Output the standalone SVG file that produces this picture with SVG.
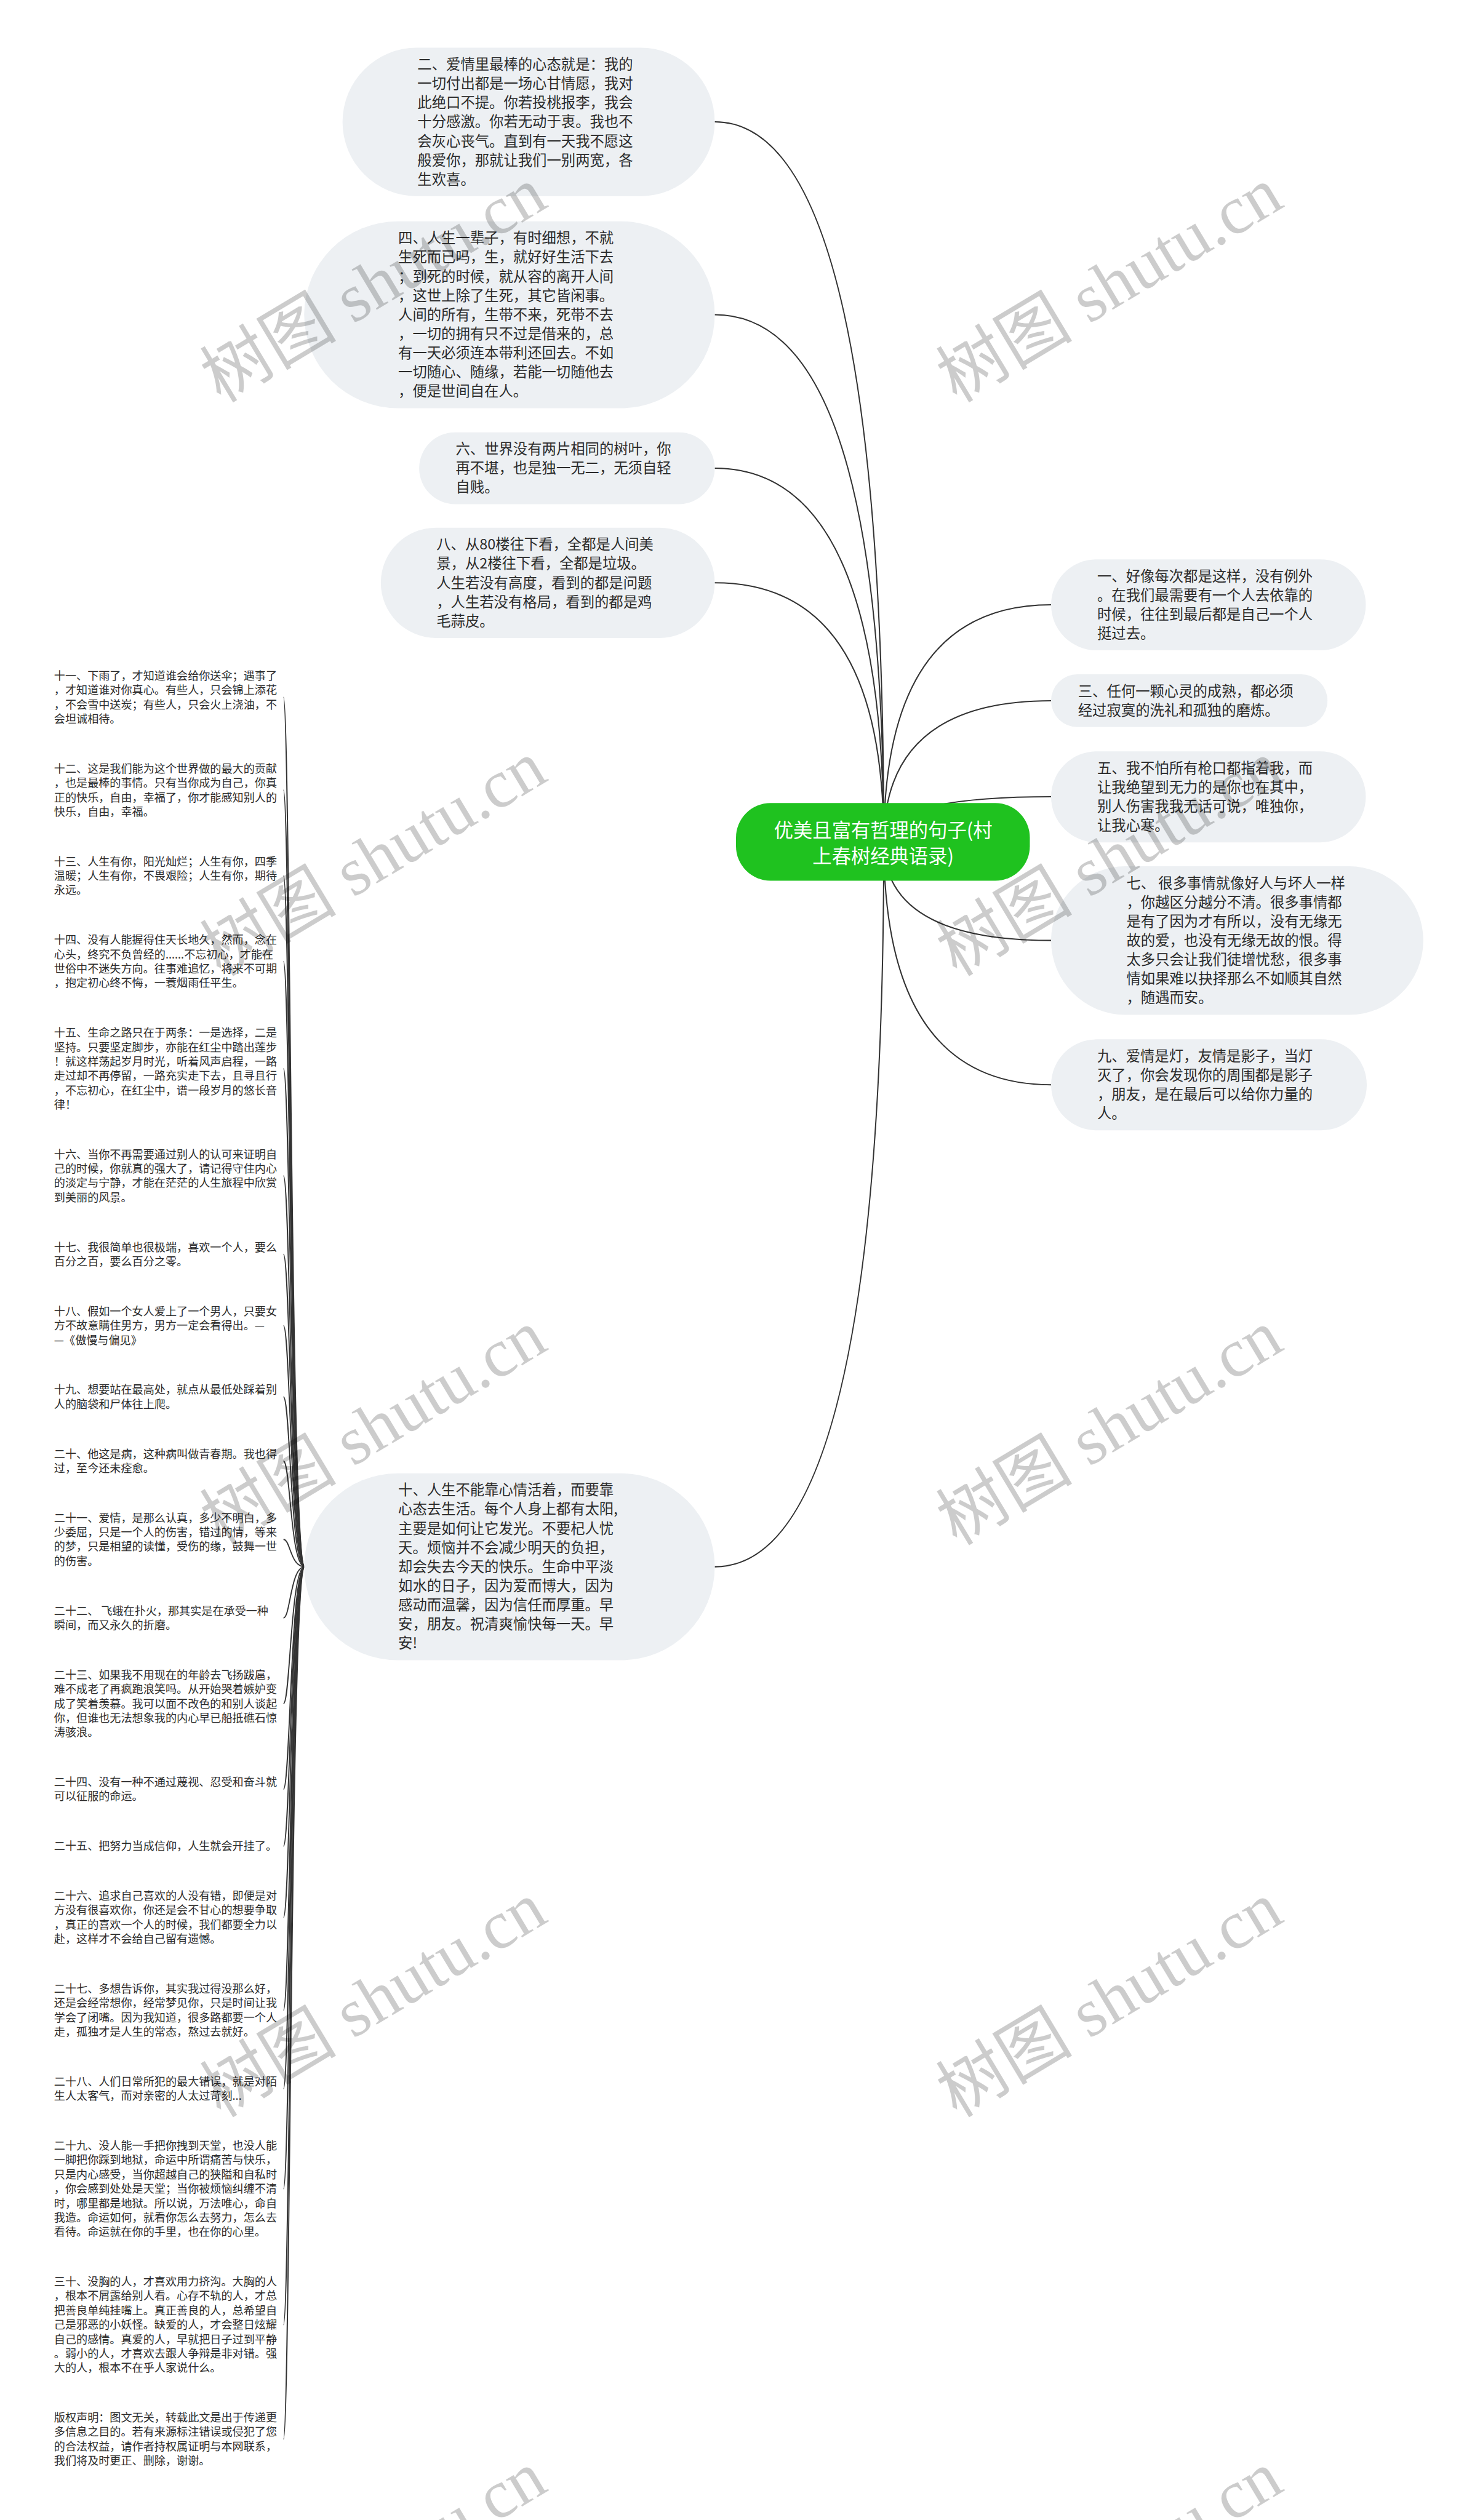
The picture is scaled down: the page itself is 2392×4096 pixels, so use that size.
<svg xmlns="http://www.w3.org/2000/svg" width="2392" height="4096" viewBox="0 0 2392 4096">
<style>
.bub{fill:#edf0f3}
.bt{font-family:"Noto Sans CJK SC","Noto Sans",sans-serif;font-size:25px;fill:#2b2b2b}
.lt{font-family:"Noto Sans CJK SC","Noto Sans",sans-serif;font-size:19.4px;fill:#2b2b2b}
.rt{font-family:"Noto Sans CJK SC","Noto Sans",sans-serif;font-size:33.5px;fill:#ffffff;text-anchor:middle}
.c1{fill:none;stroke:#333333;stroke-width:2.2}
.c2{fill:none;stroke:#333333;stroke-width:2}
.wm{font-family:"Liberation Serif","Noto Sans CJK SC",serif;font-size:119px;fill:#000000;fill-opacity:0.2}
</style>
<rect x="0" y="0" width="2392" height="4096" fill="#ffffff"/>
<g transform="scale(0.934375)">
<g id="connectors">
<path class="c1" d="M1537 1465 Q1537 212 1243 212"/>
<path class="c1" d="M1537 1465 Q1537 547.5 1243 547.5"/>
<path class="c1" d="M1537 1465 Q1537 814.5 1243 814.5"/>
<path class="c1" d="M1537 1465 Q1537 1013.8 1243 1013.8"/>
<path class="c1" d="M1537 1465 Q1537 2725.5 1243 2725.5"/>
<path class="c1" d="M1537 1465 Q1537 1052 1828 1052"/>
<path class="c1" d="M1537 1465 Q1537 1219 1828 1219"/>
<path class="c1" d="M1537 1465 Q1537 1386 1828 1386"/>
<path class="c1" d="M1537 1465 Q1537 1636 1828 1636"/>
<path class="c1" d="M1537 1465 Q1537 1887 1828 1887"/>
<path class="c2" d="M530 2725.5 C505 2725.5 505 1213 493 1213"/>
<path class="c2" d="M530 2725.5 C505 2725.5 505 1374.5 493 1374.5"/>
<path class="c2" d="M530 2725.5 C505 2725.5 505 1523.5 493 1523.5"/>
<path class="c2" d="M530 2725.5 C505 2725.5 505 1672.5 493 1672.5"/>
<path class="c2" d="M530 2725.5 C505 2725.5 505 1859 493 1859"/>
<path class="c2" d="M530 2725.5 C505 2725.5 505 2045.5 493 2045.5"/>
<path class="c2" d="M530 2725.5 C505 2725.5 505 2182 493 2182"/>
<path class="c2" d="M530 2725.5 C505 2725.5 505 2306 493 2306"/>
<path class="c2" d="M530 2725.5 C505 2725.5 505 2430 493 2430"/>
<path class="c2" d="M530 2725.5 C505 2725.5 505 2541.5 493 2541.5"/>
<path class="c2" d="M530 2725.5 C505 2725.5 505 2678 493 2678"/>
<path class="c2" d="M530 2725.5 C505 2725.5 505 2814.5 493 2814.5"/>
<path class="c2" d="M530 2725.5 C505 2725.5 505 2963.5 493 2963.5"/>
<path class="c2" d="M530 2725.5 C505 2725.5 505 3112.5 493 3112.5"/>
<path class="c2" d="M530 2725.5 C505 2725.5 505 3211.5 493 3211.5"/>
<path class="c2" d="M530 2725.5 C505 2725.5 505 3335.5 493 3335.5"/>
<path class="c2" d="M530 2725.5 C505 2725.5 505 3497 493 3497"/>
<path class="c2" d="M530 2725.5 C505 2725.5 505 3633.5 493 3633.5"/>
<path class="c2" d="M530 2725.5 C505 2725.5 505 3807.5 493 3807.5"/>
<path class="c2" d="M530 2725.5 C505 2725.5 505 4044 493 4044"/>
<path class="c2" d="M530 2725.5 C505 2725.5 505 4243 493 4243"/>
</g>

<g id="root">
<rect x="1280" y="1397" width="511" height="135" rx="60" fill="#1fc21f"/>
<text class="rt"><tspan x="1536" y="1457">优美且富有哲理的句子(村</tspan><tspan x="1536" y="1502">上春树经典语录)</tspan></text>
</g>

<g id="n2">
<rect class="bub" x="595.7" y="83" width="647.3" height="258.3" rx="129.2"/>
<text class="bt"><tspan x="726" y="121">二、爱情里最棒的心态就是：我的</tspan><tspan x="726" dy="33.33">一切付出都是一场心甘情愿，我对</tspan><tspan x="726" dy="33.33">此绝口不提。你若投桃报李，我会</tspan><tspan x="726" dy="33.33">十分感激。你若无动于衷。我也不</tspan><tspan x="726" dy="33.33">会灰心丧气。直到有一天我不愿这</tspan><tspan x="726" dy="33.33">般爱你，那就让我们一别两宽，各</tspan><tspan x="726" dy="33.33">生欢喜。</tspan></text>
</g>

<g id="n4">
<rect class="bub" x="529" y="385" width="714" height="325" rx="162.5"/>
<text class="bt"><tspan x="692.5" y="423">四、人生一辈子，有时细想，不就</tspan><tspan x="692.5" dy="33.33">生死而已吗，生，就好好生活下去</tspan><tspan x="692.5" dy="33.33">；到死的时候，就从容的离开人间</tspan><tspan x="692.5" dy="33.33">，这世上除了生死，其它皆闲事。</tspan><tspan x="692.5" dy="33.33">人间的所有，生带不来，死带不去</tspan><tspan x="692.5" dy="33.33">，一切的拥有只不过是借来的，总</tspan><tspan x="692.5" dy="33.33">有一天必须连本带利还回去。不如</tspan><tspan x="692.5" dy="33.33">一切随心、随缘，若能一切随他去</tspan><tspan x="692.5" dy="33.33">，便是世间自在人。</tspan></text>
</g>

<g id="n6">
<rect class="bub" x="729" y="752" width="514" height="125" rx="62.5"/>
<text class="bt"><tspan x="792.5" y="790">六、世界没有两片相同的树叶，你</tspan><tspan x="792.5" dy="33.33">再不堪，也是独一无二，无须自轻</tspan><tspan x="792.5" dy="33.33">自贱。</tspan></text>
</g>

<g id="n8">
<rect class="bub" x="662.3" y="918" width="580.7" height="191.7" rx="95.8"/>
<text class="bt"><tspan x="759" y="956">八、从80楼往下看，全都是人间美</tspan><tspan x="759" dy="33.33">景，从2楼往下看，全都是垃圾。</tspan><tspan x="759" dy="33.33">人生若没有高度，看到的都是问题</tspan><tspan x="759" dy="33.33">，人生若没有格局，看到的都是鸡</tspan><tspan x="759" dy="33.33">毛蒜皮。</tspan></text>
</g>

<g id="n10">
<rect class="bub" x="529" y="2563" width="714" height="325" rx="162.5"/>
<text class="bt"><tspan x="692.5" y="2601">十、人生不能靠心情活着，而要靠</tspan><tspan x="692.5" dy="33.33">心态去生活。每个人身上都有太阳,</tspan><tspan x="692.5" dy="33.33">主要是如何让它发光。不要杞人忧</tspan><tspan x="692.5" dy="33.33">天。烦恼并不会减少明天的负担，</tspan><tspan x="692.5" dy="33.33">却会失去今天的快乐。生命中平淡</tspan><tspan x="692.5" dy="33.33">如水的日子，因为爱而博大，因为</tspan><tspan x="692.5" dy="33.33">感动而温馨，因为信任而厚重。早</tspan><tspan x="692.5" dy="33.33">安，朋友。祝清爽愉快每一天。早</tspan><tspan x="692.5" dy="33.33">安!</tspan></text>
</g>

<g id="n1">
<rect class="bub" x="1828" y="973" width="547.3" height="158.3" rx="79.2"/>
<text class="bt"><tspan x="1908.2" y="1011">一、好像每次都是这样，没有例外</tspan><tspan x="1908.2" dy="33.33">。在我们最需要有一个人去依靠的</tspan><tspan x="1908.2" dy="33.33">时候，往往到最后都是自己一个人</tspan><tspan x="1908.2" dy="33.33">挺过去。</tspan></text>
</g>

<g id="n3">
<rect class="bub" x="1828" y="1173" width="480.7" height="91.7" rx="45.8"/>
<text class="bt"><tspan x="1874.8" y="1211">三、任何一颗心灵的成熟，都必须</tspan><tspan x="1874.8" dy="33.33">经过寂寞的洗礼和孤独的磨炼。</tspan></text>
</g>

<g id="n5">
<rect class="bub" x="1828" y="1307" width="547.3" height="158.3" rx="79.2"/>
<text class="bt"><tspan x="1908.2" y="1345">五、我不怕所有枪口都指着我，而</tspan><tspan x="1908.2" dy="33.33">让我绝望到无力的是你也在其中，</tspan><tspan x="1908.2" dy="33.33">别人伤害我我无话可说，唯独你，</tspan><tspan x="1908.2" dy="33.33">让我心寒。</tspan></text>
</g>

<g id="n7">
<rect class="bub" x="1828" y="1507" width="647.3" height="258.3" rx="129.2"/>
<text class="bt"><tspan x="1959" y="1545">七、 很多事情就像好人与坏人一样</tspan><tspan x="1959" dy="33.33">，你越区分越分不清。很多事情都</tspan><tspan x="1959" dy="33.33">是有了因为才有所以，没有无缘无</tspan><tspan x="1959" dy="33.33">故的爱，也没有无缘无故的恨。得</tspan><tspan x="1959" dy="33.33">太多只会让我们徒增忧愁，很多事</tspan><tspan x="1959" dy="33.33">情如果难以抉择那么不如顺其自然</tspan><tspan x="1959" dy="33.33">，随遇而安。</tspan></text>
</g>

<g id="n9">
<rect class="bub" x="1828" y="1808" width="549" height="158.3" rx="79.2"/>
<text class="bt"><tspan x="1908.2" y="1846">九、爱情是灯，友情是影子，当灯</tspan><tspan x="1908.2" dy="33.33">灭了，你会发现你的周围都是影子</tspan><tspan x="1908.2" dy="33.33">，朋友，是在最后可以给你力量的</tspan><tspan x="1908.2" dy="33.33">人。</tspan></text>
</g>

<g id="n11"><text class="lt"><tspan x="94" y="1182.5">十一、下雨了，才知道谁会给你送伞；遇事了</tspan><tspan x="94" dy="25">，才知道谁对你真心。有些人，只会锦上添花</tspan><tspan x="94" dy="25">，不会雪中送炭；有些人，只会火上浇油，不</tspan><tspan x="94" dy="25">会坦诚相待。</tspan></text></g>
<g id="n12"><text class="lt"><tspan x="94" y="1344">十二、这是我们能为这个世界做的最大的贡献</tspan><tspan x="94" dy="25">，也是最棒的事情。只有当你成为自己，你真</tspan><tspan x="94" dy="25">正的快乐，自由，幸福了，你才能感知别人的</tspan><tspan x="94" dy="25">快乐，自由，幸福。</tspan></text></g>
<g id="n13"><text class="lt"><tspan x="94" y="1505.5">十三、人生有你，阳光灿烂；人生有你，四季</tspan><tspan x="94" dy="25">温暖；人生有你，不畏艰险；人生有你，期待</tspan><tspan x="94" dy="25">永远。</tspan></text></g>
<g id="n14"><text class="lt"><tspan x="94" y="1642">十四、没有人能握得住天长地久，然而，念在</tspan><tspan x="94" dy="25">心头，终究不负曾经的......不忘初心，才能在</tspan><tspan x="94" dy="25">世俗中不迷失方向。往事难追忆，将来不可期</tspan><tspan x="94" dy="25">，抱定初心终不悔，一蓑烟雨任平生。</tspan></text></g>
<g id="n15"><text class="lt"><tspan x="94" y="1803.5">十五、生命之路只在于两条：一是选择，二是</tspan><tspan x="94" dy="25">坚持。只要坚定脚步，亦能在红尘中踏出莲步</tspan><tspan x="94" dy="25">！就这样荡起岁月时光，听着风声启程，一路</tspan><tspan x="94" dy="25">走过却不再停留，一路充实走下去，且寻且行</tspan><tspan x="94" dy="25">，不忘初心，在红尘中，谱一段岁月的悠长音</tspan><tspan x="94" dy="25">律！</tspan></text></g>
<g id="n16"><text class="lt"><tspan x="94" y="2015">十六、当你不再需要通过别人的认可来证明自</tspan><tspan x="94" dy="25">己的时候，你就真的强大了，请记得守住内心</tspan><tspan x="94" dy="25">的淡定与宁静，才能在茫茫的人生旅程中欣赏</tspan><tspan x="94" dy="25">到美丽的风景。</tspan></text></g>
<g id="n17"><text class="lt"><tspan x="94" y="2176.5">十七、我很简单也很极端，喜欢一个人，要么</tspan><tspan x="94" dy="25">百分之百，要么百分之零。</tspan></text></g>
<g id="n18"><text class="lt"><tspan x="94" y="2288">十八、假如一个女人爱上了一个男人，只要女</tspan><tspan x="94" dy="25">方不故意瞒住男方，男方一定会看得出。—</tspan><tspan x="94" dy="25">—《傲慢与偏见》</tspan></text></g>
<g id="n19"><text class="lt"><tspan x="94" y="2424.5">十九、想要站在最高处，就点从最低处踩着别</tspan><tspan x="94" dy="25">人的脑袋和尸体往上爬。</tspan></text></g>
<g id="n20"><text class="lt"><tspan x="94" y="2536">二十、他这是病，这种病叫做青春期。我也得</tspan><tspan x="94" dy="25">过，至今还未痊愈。</tspan></text></g>
<g id="n21"><text class="lt"><tspan x="94" y="2647.5">二十一、爱情，是那么认真，多少不明白，多</tspan><tspan x="94" dy="25">少委屈，只是一个人的伤害，错过的情，等来</tspan><tspan x="94" dy="25">的梦，只是相望的读懂，受伤的缘，鼓舞一世</tspan><tspan x="94" dy="25">的伤害。</tspan></text></g>
<g id="n22"><text class="lt"><tspan x="94" y="2809">二十二、 飞蛾在扑火，那其实是在承受一种</tspan><tspan x="94" dy="25">瞬间，而又永久的折磨。</tspan></text></g>
<g id="n23"><text class="lt"><tspan x="94" y="2920.5">二十三、如果我不用现在的年龄去飞扬跋扈，</tspan><tspan x="94" dy="25">难不成老了再疯跑浪笑吗。从开始哭着嫉妒变</tspan><tspan x="94" dy="25">成了笑着羡慕。我可以面不改色的和别人谈起</tspan><tspan x="94" dy="25">你，但谁也无法想象我的内心早已船抵礁石惊</tspan><tspan x="94" dy="25">涛骇浪。</tspan></text></g>
<g id="n24"><text class="lt"><tspan x="94" y="3107">二十四、没有一种不通过蔑视、忍受和奋斗就</tspan><tspan x="94" dy="25">可以征服的命运。</tspan></text></g>
<g id="n25"><text class="lt"><tspan x="94" y="3218.5">二十五、把努力当成信仰，人生就会开挂了。</tspan></text></g>
<g id="n26"><text class="lt"><tspan x="94" y="3305">二十六、追求自己喜欢的人没有错，即便是对</tspan><tspan x="94" dy="25">方没有很喜欢你，你还是会不甘心的想要争取</tspan><tspan x="94" dy="25">，真正的喜欢一个人的时候，我们都要全力以</tspan><tspan x="94" dy="25">赴，这样才不会给自己留有遗憾。</tspan></text></g>
<g id="n27"><text class="lt"><tspan x="94" y="3466.5">二十七、多想告诉你，其实我过得没那么好，</tspan><tspan x="94" dy="25">还是会经常想你，经常梦见你，只是时间让我</tspan><tspan x="94" dy="25">学会了闭嘴。因为我知道，很多路都要一个人</tspan><tspan x="94" dy="25">走，孤独才是人生的常态，熬过去就好。</tspan></text></g>
<g id="n28"><text class="lt"><tspan x="94" y="3628">二十八、人们日常所犯的最大错误，就是对陌</tspan><tspan x="94" dy="25">生人太客气，而对亲密的人太过苛刻...</tspan></text></g>
<g id="n29"><text class="lt"><tspan x="94" y="3739.5">二十九、没人能一手把你拽到天堂，也没人能</tspan><tspan x="94" dy="25">一脚把你踩到地狱，命运中所谓痛苦与快乐，</tspan><tspan x="94" dy="25">只是内心感受，当你超越自己的狭隘和自私时</tspan><tspan x="94" dy="25">，你会感到处处是天堂；当你被烦恼纠缠不清</tspan><tspan x="94" dy="25">时，哪里都是地狱。所以说，万法唯心，命自</tspan><tspan x="94" dy="25">我造。命运如何，就看你怎么去努力，怎么去</tspan><tspan x="94" dy="25">看待。命运就在你的手里，也在你的心里。</tspan></text></g>
<g id="n30"><text class="lt"><tspan x="94" y="3976">三十、没胸的人，才喜欢用力挤沟。大胸的人</tspan><tspan x="94" dy="25">，根本不屑露给别人看。心存不轨的人，才总</tspan><tspan x="94" dy="25">把善良单纯挂嘴上。真正善良的人，总希望自</tspan><tspan x="94" dy="25">己是邪恶的小妖怪。缺爱的人，才会整日炫耀</tspan><tspan x="94" dy="25">自己的感情。真爱的人，早就把日子过到平静</tspan><tspan x="94" dy="25">。弱小的人，才喜欢去跟人争辩是非对错。强</tspan><tspan x="94" dy="25">大的人，根本不在乎人家说什么。</tspan></text></g>
<g id="n31"><text class="lt"><tspan x="94" y="4212.5">版权声明：图文无关，转载此文是出于传递更</tspan><tspan x="94" dy="25">多信息之目的。若有来源标注错误或侵犯了您</tspan><tspan x="94" dy="25">的合法权益，请作者持权属证明与本网联系，</tspan><tspan x="94" dy="25">我们将及时更正、删除，谢谢。</tspan></text></g>

<g id="watermarks">
<text class="wm" transform="translate(384 702) rotate(-31)">树图 shutu.cn</text>
<text class="wm" transform="translate(1664 702) rotate(-31)">树图 shutu.cn</text>
<text class="wm" transform="translate(384 1700) rotate(-31)">树图 shutu.cn</text>
<text class="wm" transform="translate(1664 1700) rotate(-31)">树图 shutu.cn</text>
<text class="wm" transform="translate(384 2690) rotate(-31)">树图 shutu.cn</text>
<text class="wm" transform="translate(1664 2690) rotate(-31)">树图 shutu.cn</text>
<text class="wm" transform="translate(384 3685) rotate(-31)">树图 shutu.cn</text>
<text class="wm" transform="translate(1664 3685) rotate(-31)">树图 shutu.cn</text>
<text class="wm" transform="translate(384 4675) rotate(-31)">树图 shutu.cn</text>
<text class="wm" transform="translate(1664 4675) rotate(-31)">树图 shutu.cn</text>
</g>
</g>
</svg>
